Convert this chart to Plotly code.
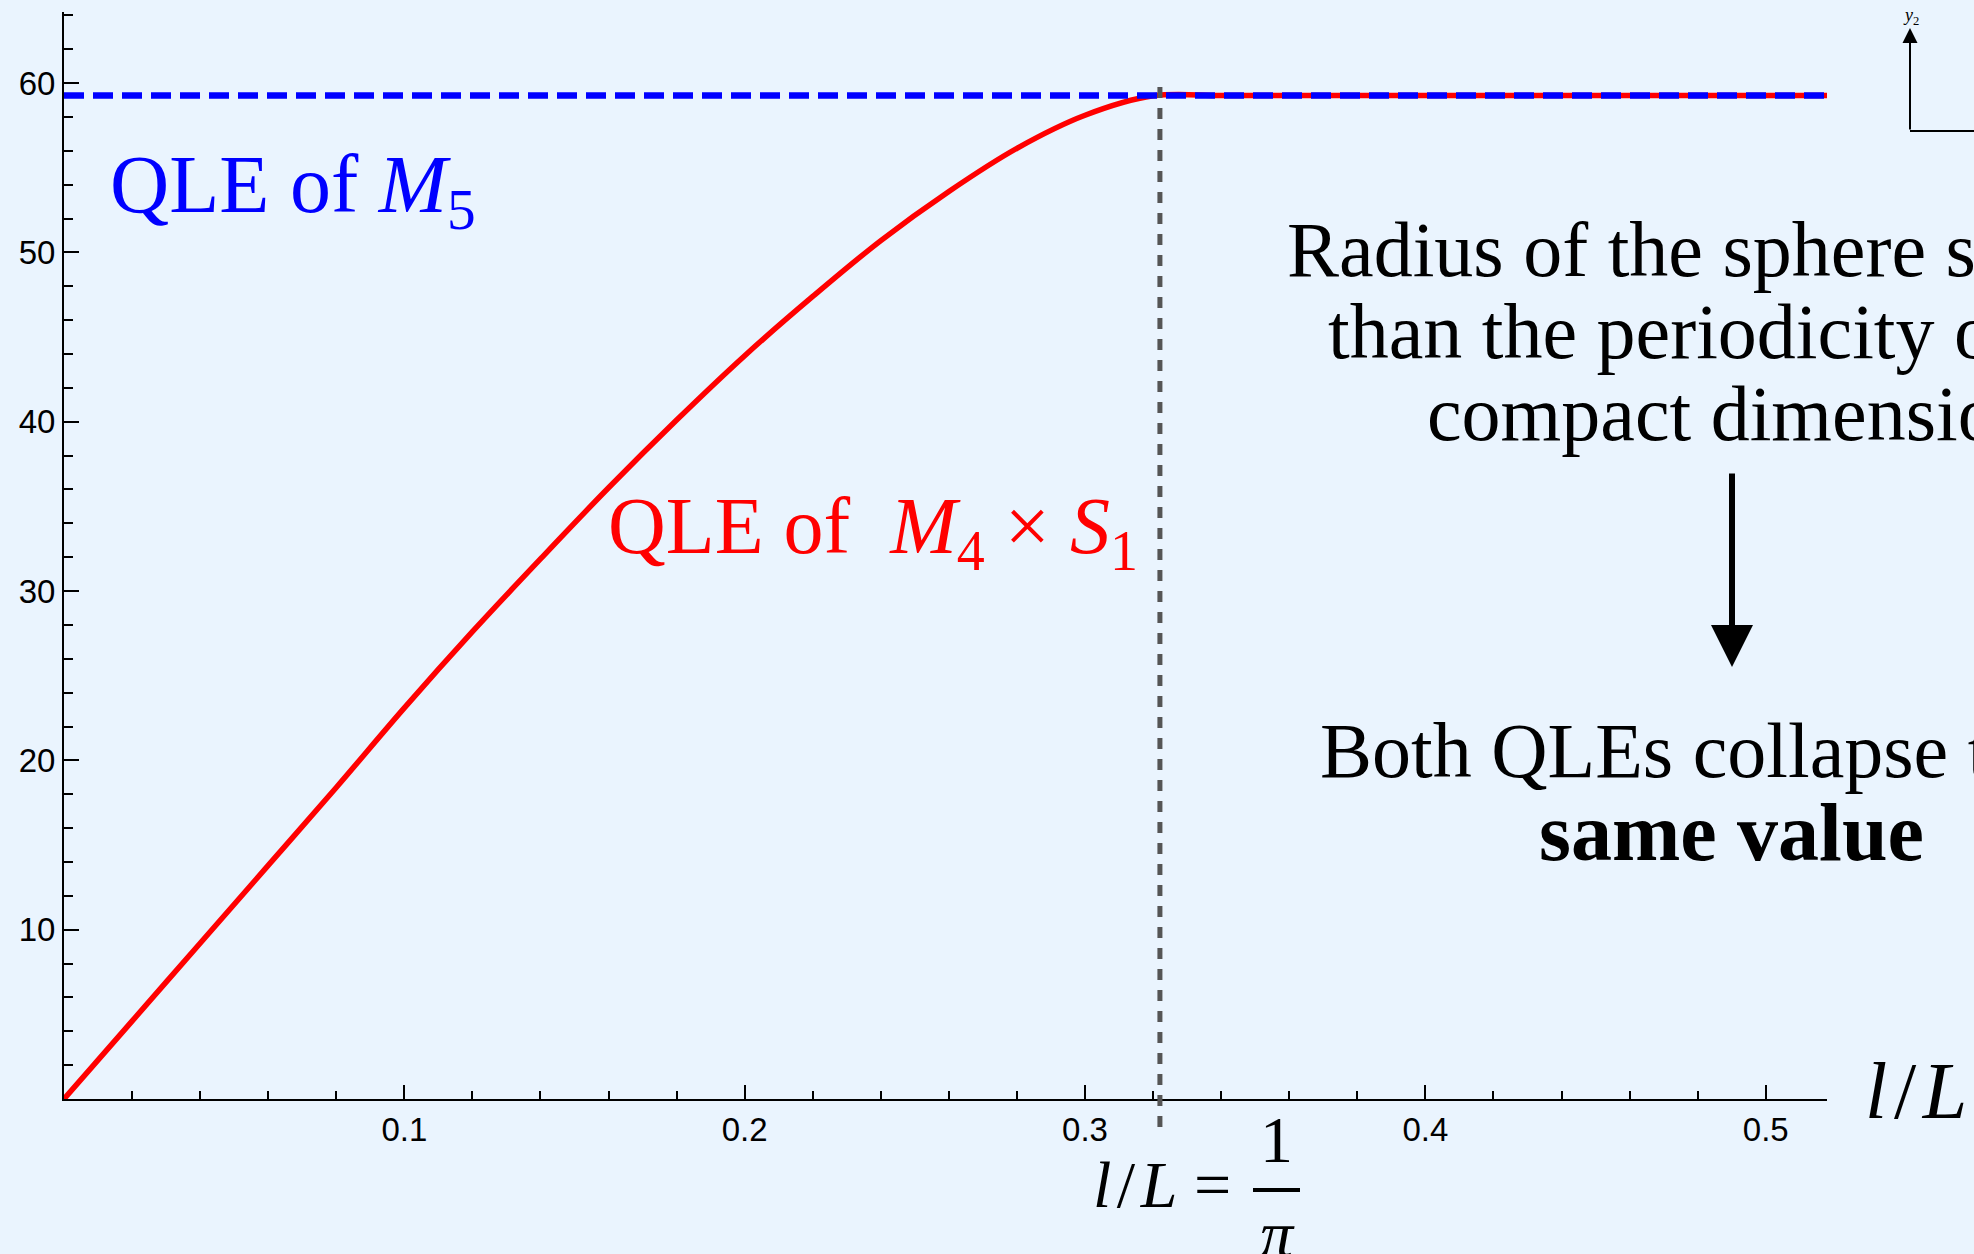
import plotly.graph_objects as go

# ---------------- data ----------------
x_red = [0.0, 0.02, 0.04, 0.06, 0.08, 0.10, 0.12, 0.14, 0.16, 0.18, 0.20,
         0.22, 0.24, 0.26, 0.28, 0.30, 0.32, 0.34, 0.36, 0.38, 0.40, 0.42,
         0.44, 0.46, 0.48, 0.50, 0.52]
y_red = [0.0, 4.6, 9.2, 13.8, 18.4, 23.1, 27.6, 31.9, 36.1, 40.1, 43.9,
         47.4, 50.7, 53.6, 56.15, 58.1, 59.25, 59.27, 59.27, 59.27, 59.27, 59.27,
         59.27, 59.27, 59.27, 59.27, 59.27]

x_blue = [0.0, 0.518]
y_blue = [59.27, 59.27]

transition_x = 0.322          # l/L = 1/pi marker (as drawn)
x_range = [0.0, 0.518]
y_range = [0.0, 64.2]

x_tickvals = [0.1, 0.2, 0.3, 0.4, 0.5]
x_ticktext = ["0.1", "0.2", "0.3", "0.4", "0.5"]
y_tickvals = [10, 20, 30, 40, 50, 60]
y_ticktext = ["10", "20", "30", "40", "50", "60"]

# ---------------- layout geometry ----------------
W, H = 1974, 1254
PL, PT, PR, PB = 64, 12, 1827, 1099   # plot-area pixel box


def px(x):
    return (x - PL) / (PR - PL)


def py(y):
    return (PB - y) / (PB - PT)


BG = "#EAF4FE"
SERIF = "Liberation Serif, Times New Roman, serif"
SANS = "Liberation Sans, Arial, sans-serif"

fig = go.Figure()

fig.add_trace(go.Scatter(
    x=x_red, y=y_red, mode="lines",
    line=dict(color="#FF0000", width=5.5, shape="spline", smoothing=1),
    showlegend=False, hoverinfo="skip"))

fig.add_trace(go.Scatter(
    x=x_blue, y=y_blue, mode="lines",
    line=dict(color="#0000FF", width=6.5, dash="20px,9px"),
    showlegend=False, hoverinfo="skip"))

shapes = [
    # vertical dotted marker line
    dict(type="line", xref="x", yref="paper",
         x0=transition_x, x1=transition_x, y0=py(1127), y1=py(81),
         line=dict(color="#555555", width=5, dash="11px,10px")),
    # fraction bar for 1/pi
    dict(type="line", xref="paper", yref="paper",
         x0=px(1253), x1=px(1300), y0=py(1190), y1=py(1190),
         line=dict(color="black", width=4)),
    # corner glyph horizontal leg
    dict(type="line", xref="paper", yref="paper",
         x0=px(1910), x1=px(1990), y0=py(131), y1=py(131),
         line=dict(color="black", width=2)),
]

ann = []


def text(t, x, y, size, color="black", xanchor="left", yanchor="top"):
    ann.append(dict(text=t, xref="paper", yref="paper", x=px(x), y=py(y),
                    xanchor=xanchor, yanchor=yanchor, showarrow=False,
                    font=dict(family=SERIF, size=size, color=color)))


text("QLE of <i>M</i><sub>5</sub>", 108, 137, 82, "#0000FF")
text("QLE of\u00a0 <i>M</i><sub>4</sub> × <i>S</i><sub>1</sub>", 606, 480, 80, "#FF0000")

text("Radius of the sphere smaller", 1731, 204, 78, xanchor="center")
text("than the periodicity of the", 1731, 286, 78, xanchor="center")
text("compact dimension", 1731, 368, 78, xanchor="center")
text("Both QLEs collapse to the", 1731, 705, 78, xanchor="center")
text("<b>same value</b>", 1731, 785, 82, xanchor="center")

text("<i>l</i>\u200a/\u200a<i>L</i>", 1863, 1045, 80)
text("<i>l</i>\u200a/\u200a<i>L</i> =", 1091, 1146, 66)
text("1", 1276, 1101, 66, xanchor="center")
text("<i>π</i>", 1277, 1195, 66, xanchor="center")
text("<i>y</i><sub>2</sub>", 1911, 16, 18, xanchor="center", yanchor="middle")

# big down arrow
ann.append(dict(text="", xref="paper", yref="paper", x=px(1732), y=py(667),
                ax=0, ay=-195, showarrow=True, arrowhead=2, arrowsize=1.4,
                arrowwidth=6, arrowcolor="black"))
# corner glyph up arrow
ann.append(dict(text="", xref="paper", yref="paper", x=px(1910), y=py(28),
                ax=0, ay=103, showarrow=True, arrowhead=2, arrowsize=1.5,
                arrowwidth=2, arrowcolor="black"))

axis_common = dict(showgrid=False, zeroline=False, showline=True,
                   linecolor="black", linewidth=2, ticks="inside",
                   tickcolor="black", tickwidth=1.5, automargin=False,
                   tickfont=dict(family=SANS, size=33, color="black"))

fig.update_layout(
    width=W, height=H,
    margin=dict(l=PL, r=W - PR, t=PT, b=H - PB, pad=0),
    paper_bgcolor=BG, plot_bgcolor=BG,
    showlegend=False,
    shapes=shapes, annotations=ann,
    xaxis=dict(range=x_range, tickmode="array", tickvals=x_tickvals,
               ticktext=x_ticktext, ticklen=14,
               minor=dict(ticks="inside", dtick=0.02, tick0=0, ticklen=8,
                          tickcolor="black", tickwidth=1.5),
               **axis_common),
    yaxis=dict(range=y_range, tickmode="array", tickvals=y_tickvals,
               ticktext=y_ticktext, ticklen=15,
               minor=dict(ticks="inside", dtick=2, tick0=0, ticklen=9,
                          tickcolor="black", tickwidth=1.5),
               **axis_common),
)

fig.write_html("out.html",
               config={"displayModeBar": False},
               post_script="document.body.style.margin='0px';"
                           "document.body.style.background='" + BG + "';")
